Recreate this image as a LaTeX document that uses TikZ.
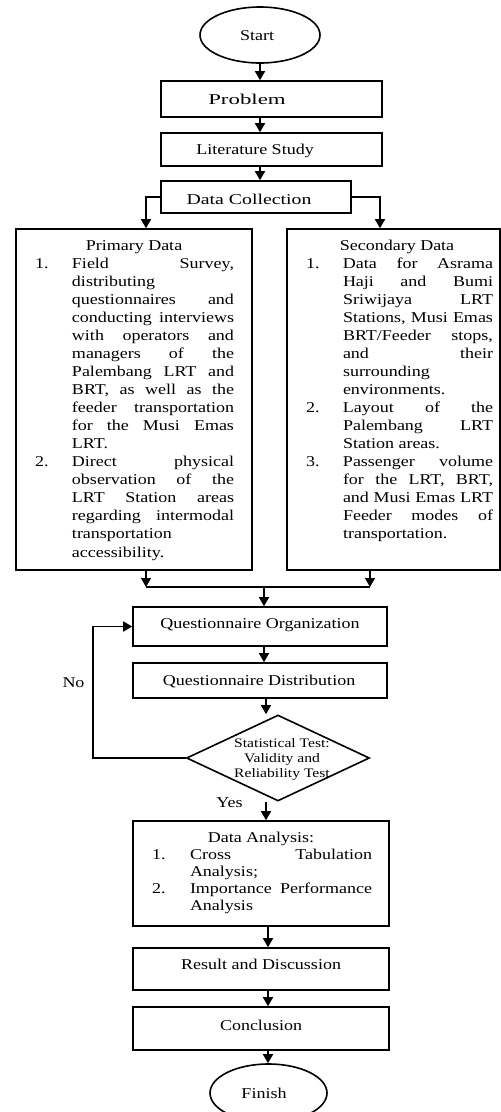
\documentclass[tikz,border=0pt]{standalone}
\usepackage{fontspec}
\setmainfont{Liberation Serif}[FakeStretch=1.2]
\usetikzlibrary{shapes.geometric,arrows.meta}
\newcommand\JL[2]{\hbox{\makebox[#1pt][s]{#2}}}
\newcommand\LL[1]{\hbox{#1}}
\newcommand\NJ[4]{\hbox{\llap{\hbox to #1pt{#2\hfil}}\makebox[#3pt][s]{#4}}}
\newcommand\NL[3]{\hbox{\llap{\hbox to #1pt{#2\hfil}}#3}}
\newcommand\TT[2]{\hbox{\hskip#1pt\makebox[0pt]{#2}}}
\begin{document}
\begin{tikzpicture}[x=1pt,y=-1pt,
  box/.style={draw,line width=1.6pt,inner sep=0pt,rectangle},
  oval/.style={draw,line width=1.6pt,inner sep=0pt,ellipse},
  dia/.style={draw,line width=1.6pt,inner sep=0pt,diamond},
  txt/.style={inner sep=0pt,outer sep=0pt,font=\fontsize{15pt}{18.06pt}\selectfont},
  arr/.style={line width=1.6pt,-{Triangle[width=10pt,length=9pt]}},
  ln/.style={line width=1.6pt}]
\useasboundingbox (0,0) rectangle (501,1112);
% shapes
\node[oval,minimum width=120pt,minimum height=56pt] (start) at (260,35) {};
\node[box,minimum width=221pt,minimum height=36pt] (problem) at (271.5,99) {};
\node[box,minimum width=221pt,minimum height=33pt] (lit) at (271.5,149.5) {};
\node[box,minimum width=190pt,minimum height=32pt] (dc) at (256,197) {};
\node[box,minimum width=236pt,minimum height=341pt] (prim) at (134,399.5) {};
\node[box,minimum width=213pt,minimum height=341pt] (sec) at (393.5,399.5) {};
\node[box,minimum width=254pt,minimum height=39pt] (qorg) at (260,626.5) {};
\node[box,minimum width=254pt,minimum height=35pt] (qdist) at (260,680.5) {};
\node[dia,minimum width=183pt,minimum height=86pt] (diam) at (278,758) {};
\node[box,minimum width=256pt,minimum height=105pt] (da) at (261,873.5) {};
\node[box,minimum width=256pt,minimum height=42pt] (res) at (261,969) {};
\node[box,minimum width=256pt,minimum height=43pt] (conc) at (261,1028.5) {};
\node[oval,minimum width=117pt,minimum height=58pt] (finish) at (268.5,1093) {};
% texts
\node[txt,anchor=base] (tstart) at (257,40) {Start};
\node[txt,anchor=base] (tproblem) at (247,104) {\scalebox{1.27}[1]{Problem}};
\node[txt,anchor=base] (tlit) at (255,154) {Literature Study};
\node[txt,anchor=base] (tdc) at (249,204) {\scalebox{1.1}[1]{Data Collection}};
\node[txt,anchor=base west] (tprim) at (72,250) {\vtop{\baselineskip=18.06pt\lineskiplimit=-50pt
  \TT{62}{Primary Data}
  \NJ{37}{1.}{162}{Field Survey,}
  \LL{distributing}
  \JL{162}{questionnaires and}
  \JL{162}{conducting interviews}
  \JL{162}{with operators and}
  \JL{162}{managers of the}
  \JL{162}{Palembang LRT and}
  \JL{162}{BRT, as well as the}
  \JL{162}{feeder transportation}
  \JL{162}{for the Musi Emas}
  \LL{LRT.}
  \NJ{37}{2.}{162}{Direct physical}
  \JL{162}{observation of the}
  \JL{162}{LRT Station areas}
  \JL{162}{regarding intermodal}
  \LL{transportation}
  \LL{accessibility.}}};
\node[txt,anchor=base west] (tsec) at (343,250) {\vtop{\baselineskip=18.06pt\lineskiplimit=-50pt
  \TT{54}{Secondary Data}
  \NJ{37}{1.}{150}{Data for Asrama}
  \JL{150}{Haji and Bumi}
  \JL{150}{Sriwijaya LRT}
  \JL{150}{Stations, Musi Emas}
  \JL{150}{BRT/Feeder stops,}
  \JL{150}{and their}
  \LL{surrounding}
  \LL{environments.}
  \NJ{37}{2.}{150}{Layout of the}
  \JL{150}{Palembang LRT}
  \LL{Station areas.}
  \NJ{37}{3.}{150}{Passenger volume}
  \JL{150}{for the LRT, BRT,}
  \JL{150}{and Musi Emas LRT}
  \JL{150}{Feeder modes of}
  \LL{transportation.}}};
\node[txt,anchor=base] (tqorg) at (260,628) {Questionnaire Organization};
\node[txt,anchor=base] (tqdist) at (259,685) {Questionnaire Distribution};
\node[txt,anchor=base,font=\fontsize{13pt}{15pt}\selectfont] (tdiam) at (282,747) {\vtop{\baselineskip=15pt\lineskiplimit=-50pt
  \hbox to 0pt{\hss Statistical Test:\hss}
  \hbox to 0pt{\hss Validity and\hss}
  \hbox to 0pt{\hss Reliability Test\hss}}};
\node[txt,anchor=base west] (tda) at (190,842) {\vtop{\baselineskip=17pt\lineskiplimit=-50pt
  \TT{71}{Data Analysis:}
  \NJ{38}{1.}{182}{Cross Tabulation}
  \LL{Analysis;}
  \NJ{38}{2.}{182}{Importance Performance}
  \LL{Analysis}}};
\node[txt,anchor=base] (tres) at (261,969) {Result and Discussion};
\node[txt,anchor=base] (tconc) at (261,1030) {Conclusion};
\node[txt,anchor=base] (tfinish) at (264,1098) {Finish};
\node[txt,anchor=base] (tno) at (73.5,687) {No};
\node[txt,anchor=base] (tyes) at (229.5,807) {Yes};
% helper coordinates
\coordinate (pin) at (146,0);
\coordinate (sin) at (380,0);
\coordinate (sout) at (370,0);
\coordinate (mrg) at (264,587);
\coordinate (dx) at (266,0);
\coordinate (fx) at (268,0);
\coordinate (nox) at (93,700);
% connectors
\draw[arr] (start.south) -- (start.south |- problem.north);
\draw[arr] (problem.south -| start) -- (lit.north -| start);
\draw[arr] (lit.south -| start) -- (dc.north -| start);
\draw[arr] (dc.west) -| (prim.north -| pin);
\draw[arr] (dc.east) -| (sec.north -| sin);
\draw[arr] (prim.south -| pin) -- (pin |- mrg);
\draw[arr] (sec.south -| sout) -- (sout |- mrg);
\draw[ln] (pin |- mrg) -- (sout |- mrg);
\draw[arr] (mrg) -- (mrg |- qorg.north);
\draw[arr] (qorg.south -| mrg) -- (qdist.north -| mrg);
\draw[arr] (qdist.south -| dx) -- (dx |- diam.north);
\draw[arr] (diam.west) -| (nox) |- (qorg.west);
\draw[arr] (diam.south -| dx) -- (dx |- da.north);
\draw[arr] (da.south -| fx) -- (res.north -| fx);
\draw[arr] (res.south -| fx) -- (conc.north -| fx);
\draw[arr] (conc.south -| fx) -- (fx |- finish.north);
\end{tikzpicture}
\end{document}
